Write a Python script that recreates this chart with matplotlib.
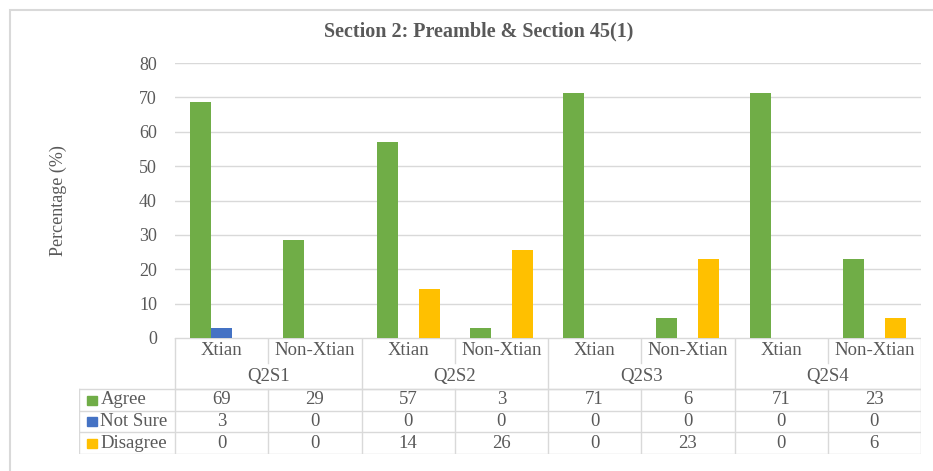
import numpy as np
import matplotlib
matplotlib.use("Agg")
import matplotlib.pyplot as plt
from matplotlib.patches import Rectangle

plt.rcParams['font.family'] = ['Liberation Serif', 'DejaVu Serif']

# data
groups = ["Q2S1", "Q2S2", "Q2S3", "Q2S4"]
subgroups = ["Xtian", "Non-Xtian"]
series = ["Agree", "Not Sure", "Disagree"]
agree = [68.6, 28.6, 57.1, 2.9, 71.4, 5.7, 71.4, 22.9]
not_sure = [2.9, 0, 0, 0, 0, 0, 0, 0]
disagree = [0, 0, 14.3, 25.7, 0, 22.9, 0, 5.7]
colors = ["#70AD47", "#4472C4", "#FFC000"]

txt = "#595959"
line = "#D9D9D9"

W, H = 933, 471
fig = plt.figure(figsize=(W / 100, H / 100), dpi=100)

# outer chart border
fig.patches.append(Rectangle((10 / W, -0.1), 1.1, 1 - 10 / H + 0.1, transform=fig.transFigure,
                             fill=False, edgecolor="#D9D9D9", linewidth=1.5))

x0, x1, ytop, ybot = 175, 921, 63, 338
ax = fig.add_axes([x0 / W, 1 - ybot / H, (x1 - x0) / W, (ybot - ytop) / H])

vals = [agree, not_sure, disagree]
n = len(agree)
x = np.arange(n) + 0.5
bw = 0.225
for i, (v, c) in enumerate(zip(vals, colors)):
    ax.bar(x + (i - 1) * bw, v, width=bw, color=c, zorder=3)

ax.set_xlim(0, n)
ax.set_ylim(0, 80)
ax.set_yticks(range(0, 81, 10))
ax.set_xticks([])
ax.grid(axis="y", color=line, linewidth=1, zorder=0)
for s in ax.spines.values():
    s.set_visible(False)
ax.tick_params(axis="y", length=0, pad=13, labelsize=13, labelcolor=txt)
ax.set_ylabel("Percentage (%)", fontsize=13, color=txt, labelpad=52)

fig.text(0.513, 1 - 31 / H, "Section 2: Preamble & Section 45(1)", ha="center", va="center",
         fontsize=14.5, fontweight="bold", color=txt)

# data table below the axis
tl = 79
tax = fig.add_axes([tl / W, 1 - 454 / H, (x1 - tl) / W, (454 - ybot) / H])
lab_w = (x0 - tl) / ((x1 - x0) / n)
tax.set_xlim(-lab_w, n)
rows = [0, 25, 51, 73, 94, 116]
tax.set_ylim(rows[-1], 0)
tax.axis("off")

kw = dict(color=line, linewidth=1)
# horizontal lines
tax.plot([0, n], [0, 0], **kw)
tax.plot([0, n], [rows[2], rows[2]], **kw)
for r in rows[2:]:
    tax.plot([-lab_w, n], [r, r], **kw)
# vertical lines
tax.plot([-lab_w, -lab_w], [rows[2], rows[-1]], **kw)
for k in range(n + 1):
    if k % 2 == 0:
        tax.plot([k, k], [0, rows[-1]], **kw)
    else:
        tax.plot([k, k], [0, rows[1]], **kw)
        tax.plot([k, k], [rows[2], rows[-1]], **kw)

fs = 13.5
for k in range(n):
    tax.text(k + 0.5, (rows[0] + rows[1]) / 2, subgroups[k % 2], ha="center", va="center",
             fontsize=fs, color=txt)
for g, name in enumerate(groups):
    tax.text(2 * g + 1, (rows[1] + rows[2]) / 2, name, ha="center", va="center",
             fontsize=fs, color=txt)
for i, (name, v, c) in enumerate(zip(series, vals, colors)):
    yc = (rows[2 + i] + rows[3 + i]) / 2
    tax.add_patch(Rectangle((-lab_w + 0.09, yc - 4.5), 0.105, 9, color=c))
    tax.text(-lab_w + 0.23, yc, name, ha="left", va="center", fontsize=fs, color=txt)
    for k in range(n):
        tax.text(k + 0.5, yc, f"{v[k]:.0f}", ha="center", va="center", fontsize=fs, color=txt)

fig.savefig("out.png", dpi=100)
